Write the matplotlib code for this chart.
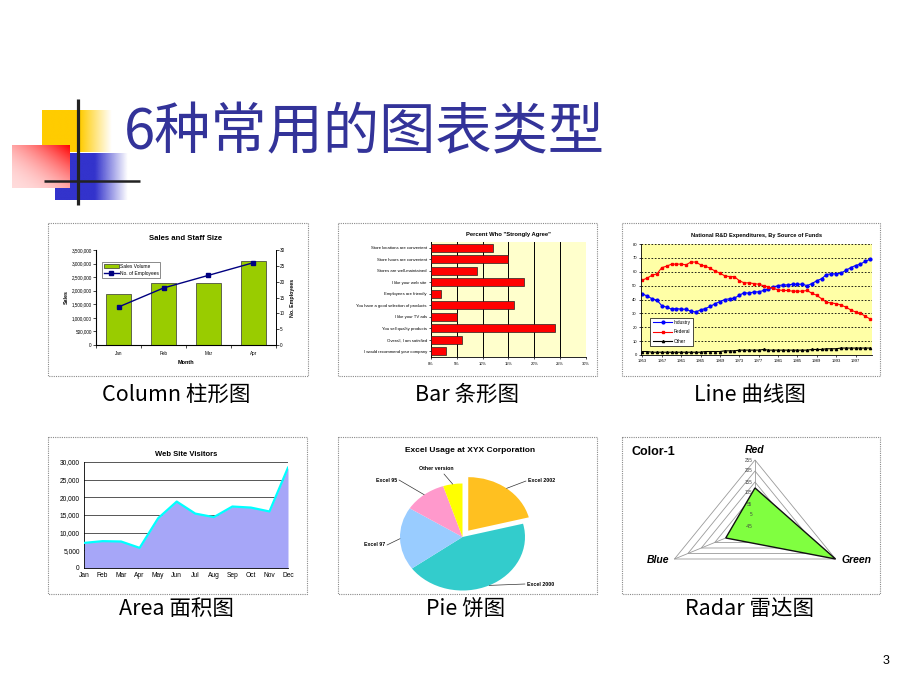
import matplotlib
matplotlib.use('Agg')
import matplotlib.pyplot as plt
import numpy as np
from matplotlib.patches import Rectangle, Polygon, Patch
from matplotlib.ticker import FuncFormatter
from matplotlib.lines import Line2D

# ---------------- data ----------------
title_text = "6种常用的图表类型"
captions = ["Column 柱形图", "Bar 条形图", "Line 曲线图", "Area 面积图", "Pie 饼图", "Radar 雷达图"]

col_months = ["Jan", "Feb", "Mar", "Apr"]
col_sales = [1870000, 2300000, 2280000, 3100000]
col_employees = [12, 18, 22, 26]

bar_labels = ["Store locations are convenient", "Store hours are convenient",
              "Stores are well-maintained", "I like your web site",
              "Employees are friendly", "You have a good selection of products",
              "I like your TV ads", "You sell quality products",
              "Overall, I am satisfied", "I would recommend your company"]
bar_values = [0.12, 0.15, 0.09, 0.18, 0.02, 0.16, 0.05, 0.24, 0.06, 0.03]

line_years = list(range(1953, 2001))
line_industry = [44, 42.5, 40.5, 39.5, 35.5, 34.5, 33, 33.5, 33, 33,
                 31.5, 31, 32.5, 33.5, 35, 37, 38.5, 40, 40.5, 41,
                 43, 45, 44.5, 45.5, 45.5, 46.5, 47.5, 49, 50, 50.5,
                 50.5, 51, 51, 51, 50, 51.5, 53.5, 55, 58, 58.5,
                 58.5, 59, 61, 63, 64.5, 65.5, 67.5, 69]
line_federal = [54, 55.5, 57.5, 58.5, 63, 64, 65.5, 65.5, 65.5, 65,
                67, 67, 65, 64, 62.5, 60.5, 59, 57, 56.5, 56.5,
                53.5, 52, 52, 51.5, 51, 50, 49, 48, 47, 46.5,
                46.5, 46, 46, 46, 46.5, 44.5, 43, 40.5, 38, 37.5,
                37, 36, 34.5, 32.5, 31, 30, 28, 26]
line_other = [2.5, 2.5, 2, 2, 2, 2, 2, 2, 2, 2,
              2, 2, 2, 2.5, 2.5, 2.5, 2.5, 3, 3, 3,
              3.5, 3.5, 3.5, 3.5, 3.5, 4, 3.5, 3.5, 3.5, 3.5,
              3.5, 3.5, 3.5, 3.5, 3.5, 4, 4, 4, 4.5, 4.5,
              4.5, 5, 5, 5, 5, 5, 5, 5]
line_xticks = [1953, 1957, 1961, 1965, 1969, 1973, 1977, 1981, 1985, 1989, 1993, 1997]

area_months = ["Jan", "Feb", "Mar", "Apr", "May", "Jun", "Jul", "Aug", "Sep", "Oct", "Nov", "Dec"]
area_visitors = [7100, 7600, 7500, 5700, 14100, 18800, 15400, 14400, 17400, 17100, 16000, 28400]

pie_labels = ["Excel 2002", "Excel 2000", "Excel 97", "Excel 95", "Other version"]
pie_values = [21, 44, 19, 11, 5]
pie_colors = ["#FFC020", "#33CCCC", "#99CCFF", "#FF99CC", "#FFFF00"]

radar_axes = ["Red", "Green", "Blue"]
radar_values = [128, 255, 64]
radar_ticks = [-45, 5, 55, 105, 155, 205, 255]

# ---------------- figure ----------------
W, H = 920, 690
fig = plt.figure(figsize=(9.2, 6.9), dpi=100)
AR = 'Liberation Sans'
CJK = ['Noto Sans CJK SC', 'DejaVu Sans']


def add_ax(x0, y0, x1, y1, **kw):
    return fig.add_axes([x0 / W, 1 - y1 / H, (x1 - x0) / W, (y1 - y0) / H], **kw)


bg = add_ax(0, 0, W, H)
bg.set_zorder(-5)
bg.axis('off')

# decorative gradient squares
xs = np.linspace(42, 112, 200)
img = np.zeros((1, 200, 4))
img[..., 0], img[..., 1], img[..., 2] = 1.0, 0.8, 0.0
img[..., 3] = np.clip((112 - xs) / 32, 0, 1)
bg.imshow(img, extent=(42, 112, 152, 110), aspect='auto', interpolation='bilinear', zorder=1)

xs = np.linspace(55, 128, 200)
img = np.zeros((1, 200, 4))
img[..., 0], img[..., 1], img[..., 2] = 0.2, 0.2, 0.8
img[..., 3] = np.clip((128 - xs) / 33, 0, 1)
bg.imshow(img, extent=(55, 128, 200, 153), aspect='auto', interpolation='bilinear', zorder=2)

gx, gy = np.meshgrid(np.linspace(0, 1, 120), np.linspace(1, 0, 90))
t = ((gx + gy) / 2) ** 2
img = np.zeros((90, 120, 4))
img[..., 0] = 1.0
img[..., 1] = 0.86 * (1 - t)
img[..., 2] = 0.86 * (1 - t)
img[..., 3] = 1.0
bg.imshow(img, extent=(12, 70, 188, 145), aspect='auto', interpolation='bilinear', zorder=3)

bg.plot([78, 78], [99, 205], color='#222222', lw=2.3, zorder=4, solid_capstyle='butt')
bg.plot([44, 140], [181, 181], color='#222222', lw=1.8, zorder=4, solid_capstyle='butt')

bg.text(124, 133, title_text, family=CJK, fontsize=40.5, color='#333399', va='center', ha='left', zorder=5)
bg.text(886, 661, "3", family=AR, fontsize=9, ha='center', va='center')

# panel borders and captions
panels = [(48, 223, 308, 376), (338, 223, 597, 376), (622, 223, 880, 376),
          (48, 437, 307, 594), (338, 437, 597, 594), (622, 437, 880, 594)]
for (x0, y0, x1, y1) in panels:
    bg.add_patch(Rectangle((x0, y0), x1 - x0, y1 - y0, fill=False, ec='#8A8A8A', lw=0.8, ls=(0, (1, 1))))
cap_pos = [(176, 395), (467, 395), (750, 395), (176, 609), (466, 609), (750, 609)]
for (cx, cy), c in zip(cap_pos, captions):
    bg.text(cx, cy, c, family=CJK, fontsize=15.5, ha='center', va='center')
bg.set_xlim(0, W)
bg.set_ylim(H, 0)

# ---------------- 1. Column ----------------
ax = add_ax(96, 250, 276, 345)
x = np.arange(len(col_months))
b = ax.bar(x, col_sales, width=0.57, color='#99CC00', edgecolor='#333333', lw=0.5, label='Sales Volume')
ax.set_xlim(-0.5, 3.5)
ax.set_ylim(0, 3500000)
ax.set_yticks(np.arange(0, 3500001, 500000))
ax.yaxis.set_major_formatter(FuncFormatter(lambda v, p: f"{int(v):,}"))
ax.set_xticks(x)
ax.set_xticklabels(col_months)
ax.set_xticks([-0.5, 0.5, 1.5, 2.5, 3.5], minor=True)
ax.tick_params(axis='x', which='major', length=0, labelsize=3.3, pad=4)
ax.tick_params(axis='x', which='minor', length=2, width=0.5)
ax.tick_params(axis='y', labelsize=3.3, length=2, width=0.5, pad=1)
for lab in ax.get_xticklabels() + ax.get_yticklabels():
    lab.set_family(AR)
ax.spines['top'].set_visible(False)
for s in ['left', 'bottom', 'right']:
    ax.spines[s].set_linewidth(0.6)
ax.set_ylabel('Sales', family=AR, fontsize=3.8, fontweight='bold', labelpad=2)
ax.set_xlabel('Month', family=AR, fontsize=4, fontweight='bold', labelpad=3)
ax.set_title('Sales and Staff Size', family=AR, fontsize=5.6, fontweight='bold', pad=7)
ax2 = ax.twinx()
ln, = ax2.plot(x, col_employees, color='#000080', marker='s', ms=3, lw=1, label='No. of Employees')
ax2.set_ylim(0, 30)
ax2.set_yticks(np.arange(0, 31, 5))
ax2.tick_params(axis='y', labelsize=3.3, length=2, width=0.5, pad=1)
for lab in ax2.get_yticklabels():
    lab.set_family(AR)
ax2.spines['top'].set_visible(False)
ax2.spines['right'].set_linewidth(0.6)
ax2.set_ylabel('No. Employees', family=AR, fontsize=3.8, fontweight='bold', labelpad=3)
leg = ax.legend(handles=[b, ln], loc='upper left', bbox_to_anchor=(0.02, 0.9), prop={'family': AR, 'size': 3.5},
                frameon=True, fancybox=False, edgecolor='#333333', borderpad=0.4, handlelength=3,
                labelspacing=0.4, handletextpad=0.2)
leg.get_frame().set_linewidth(0.5)
leg.set_zorder(10)

# ---------------- 2. Bar ----------------
ax = add_ax(431, 242, 586, 357, facecolor='#FFFFCC')
y = np.arange(len(bar_labels))
ax.barh(y, bar_values, height=0.72, color='#FF0000', edgecolor='#222222', lw=0.5, zorder=3)
ax.set_ylim(len(bar_labels) - 0.5, -0.5)
ax.set_xlim(0, 0.30)
ax.set_xticks(np.arange(0, 0.301, 0.05))
ax.set_xticklabels([f"{int(round(v * 100))}%" for v in np.arange(0, 0.301, 0.05)])
ax.set_yticks(y)
ax.set_yticklabels(bar_labels)
ax.grid(axis='x', color='#000000', lw=0.7, zorder=1)
ax.tick_params(axis='y', labelsize=3.1, length=1.5, width=0.5, pad=1.5)
ax.tick_params(axis='x', labelsize=2.9, length=1.5, width=0.5, pad=2)
for lab in ax.get_xticklabels() + ax.get_yticklabels():
    lab.set_family(AR)
for s in ['top', 'right']:
    ax.spines[s].set_visible(False)
for s in ['left', 'bottom']:
    ax.spines[s].set_linewidth(0.6)
ax.set_title('Percent Who "Strongly Agree"', family=AR, fontsize=4.2, fontweight='bold', pad=4)

# ---------------- 3. Line ----------------
ax = add_ax(641, 244, 872, 355, facecolor='#FFFFA6')
ax.plot(line_years, line_industry, color='#0000FF', marker='o', ms=2, lw=0.8, label='Industry')
ax.plot(line_years, line_federal, color='#FF0000', marker='s', ms=1.5, lw=0.8, label='Federal')
ax.plot(line_years, line_other, color='#000000', marker='^', ms=1.6, lw=0.8, label='Other')
ax.set_xlim(1952.7, 2000.4)
ax.set_ylim(0, 80)
ax.set_yticks(np.arange(0, 81, 10))
ax.set_xticks(line_xticks)
ax.grid(axis='y', color='#000000', lw=0.6, ls=(0, (2, 2)))
ax.tick_params(labelsize=3, length=1.5, width=0.5, pad=1.5)
for lab in ax.get_xticklabels() + ax.get_yticklabels():
    lab.set_family(AR)
for s in ['top', 'right']:
    ax.spines[s].set_visible(False)
for s in ['left', 'bottom']:
    ax.spines[s].set_linewidth(0.6)
ax.set_title('National R&D Expenditures, By Source of Funds', family=AR, fontsize=4.1, fontweight='bold', pad=5)
leg = ax.legend(loc='lower left', bbox_to_anchor=(0.03, 0.06), prop={'family': AR, 'size': 3.4},
                frameon=True, fancybox=False, edgecolor='#000000', facecolor='white', framealpha=1,
                borderpad=0.5, handlelength=4.2, labelspacing=0.9, handletextpad=0.3)
leg.get_frame().set_linewidth(0.5)

# ---------------- 4. Area ----------------
ax = add_ax(84, 462, 288, 568)
xa = np.arange(len(area_months))
ax.fill_between(xa, area_visitors, color='#A6A6F8', lw=0, zorder=2)
ax.plot(xa, area_visitors, color='#00FFFF', lw=1.6, zorder=3)
ax.set_xlim(0, 11)
ax.set_ylim(0, 30000)
ax.set_yticks(np.arange(0, 30001, 5000))
ax.yaxis.set_major_formatter(FuncFormatter(lambda v, p: f"{int(v):,}"))
ax.set_xticks(xa)
ax.set_xticklabels(area_months)
ax.grid(axis='y', color='#555555', lw=0.7, zorder=1)
ax.tick_params(labelsize=4.8, length=0, pad=3)
for lab in ax.get_xticklabels() + ax.get_yticklabels():
    lab.set_family(AR)
for s in ['top', 'right']:
    ax.spines[s].set_visible(False)
for s in ['left', 'bottom']:
    ax.spines[s].set_linewidth(0.6)
ax.set_title('Web Site Visitors', family=AR, fontsize=5.5, fontweight='bold', pad=4)

# ---------------- 5. Pie ----------------
cx, cy, rx, ry = 462.5, 537, 62.5, 53.5
px0, py0, px1, py1 = 340, 455, 595, 594
ax = add_ax(px0, py0, px1, py1)
wedges, _ = ax.pie(pie_values, colors=pie_colors, startangle=90, counterclock=False,
                   explode=[0.15, 0, 0, 0, 0], wedgeprops=dict(linewidth=0))
ax.set_aspect('auto')
ax.set_xlim((px0 - cx) / rx, (px1 - cx) / rx)
ax.set_ylim((cy - py1) / ry, (cy - py0) / ry)
ax.axis('off')
label_pos = [(528, 481, 'left'), (527, 584, 'left'), (385, 545, 'right'), (397, 480, 'right'), (436, 468, 'center')]
for w, lab, (tx, ty, ha) in zip(wedges, pie_labels, label_pos):
    th = np.deg2rad((w.theta1 + w.theta2) / 2)
    ccx, ccy = w.center
    ax_pt = (ccx + np.cos(th), ccy + np.sin(th))
    if ha == 'center':
        xyt = (tx + 8, H - ty - 6)
        ax.annotate('', xy=ax_pt, xytext=xyt, textcoords='figure pixels',
                    arrowprops=dict(arrowstyle='-', lw=0.5, color='#333333', shrinkA=0, shrinkB=0))
    else:
        ax.annotate('', xy=ax_pt, xytext=(tx + (-2 if ha == 'left' else 2), H - ty), textcoords='figure pixels',
                    arrowprops=dict(arrowstyle='-', lw=0.5, color='#333333', shrinkA=0, shrinkB=0))
    bg.text(tx, ty, lab, family=AR, fontsize=3.8, fontweight='bold', ha=ha, va='center')
bg.text(470, 450, 'Excel Usage at XYX Corporation', family=AR, fontsize=6, fontweight='bold', ha='center', va='center')

# ---------------- 6. Radar ----------------
rcx, rcy, urx, ury = 755, 526, 93, 66
qx0, qy0, qx1, qy1 = 622, 437, 880, 594
ax = add_ax(qx0, qy0, qx1, qy1)
ax.set_xlim((qx0 - rcx) / urx, (qx1 - rcx) / urx)
ax.set_ylim((rcy - qy1) / ury, (rcy - qy0) / ury)
ax.axis('off')
angles = np.deg2rad([90, -30, 210])
vmin, vmax = radar_ticks[0], radar_ticks[-1]
for tv in radar_ticks[1:]:
    r = (tv - vmin) / (vmax - vmin)
    ax.add_patch(Polygon(np.c_[r * np.cos(angles), r * np.sin(angles)], closed=True, fill=False,
                         ec='#9A9A9A', lw=0.6, zorder=1))
for a in angles:
    ax.plot([0, np.cos(a)], [0, np.sin(a)], color='#9A9A9A', lw=0.6, zorder=1)
rv = (np.array(radar_values) - vmin) / (vmax - vmin)
ax.add_patch(Polygon(np.c_[rv * np.cos(angles), rv * np.sin(angles)], closed=True,
                     fc='#80FF40', ec='#111111', lw=1.0, zorder=2))
for tv in radar_ticks:
    r = (tv - vmin) / (vmax - vmin)
    ax.text(-0.03, r, str(tv), family=AR, fontsize=3.3, color='#444444', ha='right', va='center', zorder=3)
offs = [(0, 0.15, 'center'), (0.06, -0.02, 'left'), (-0.06, -0.02, 'right')]
for a, name, (dx, dy, ha) in zip(angles, radar_axes, offs):
    ax.text(np.cos(a) + dx, np.sin(a) + dy, name, family=AR, fontsize=7.5, fontweight='bold',
            style='italic', ha=ha, va='center')
bg.text(632, 452, 'Color-1', family=AR, fontsize=9, fontweight='bold', ha='left', va='center')

fig.savefig('out.png', dpi=100)
